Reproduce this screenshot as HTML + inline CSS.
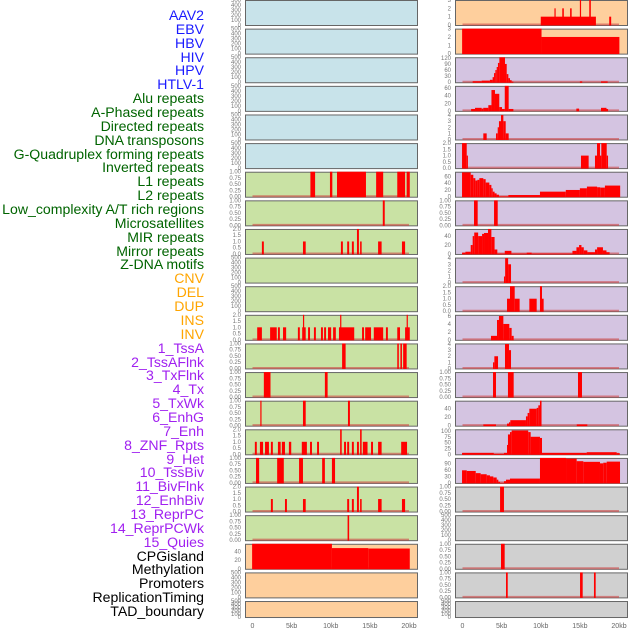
<!DOCTYPE html>
<html><head><meta charset="utf-8">
<style>
html,body{margin:0;padding:0;background:#fff;width:630px;height:630px;overflow:hidden}
#labels{position:absolute;left:0;top:0;width:204px;height:630px}
.lab{position:absolute;right:0;font:14.1px "Liberation Sans",sans-serif;white-space:nowrap;line-height:14px}
svg{position:absolute;left:0;top:0}
</style></head>
<body>
<div id="labels"></div>
<svg id="chart" width="630" height="630"></svg>
<script>
const labelNames = ["AAV2","EBV","HBV","HIV","HPV","HTLV-1","Alu repeats","A-Phased repeats","Directed repeats","DNA transposons","G-Quadruplex forming repeats","Inverted repeats","L1 repeats","L2 repeats","Low_complexity A/T rich regions","Microsatellites","MIR repeats","Mirror repeats","Z-DNA motifs","CNV","DEL","DUP","INS","INV","1_TssA","2_TssAFlnk","3_TxFlnk","4_Tx","5_TxWk","6_EnhG","7_Enh","8_ZNF_Rpts","9_Het","10_TssBiv","11_BivFlnk","12_EnhBiv","13_ReprPC","14_ReprPCWk","15_Quies","CPGisland","Methylation","Promoters","ReplicationTiming","TAD_boundary"];
const labelGroupSizes = [6,13,5,15,5];
const labelColors = ["#1a1aff","#006400","#ffa500","#a020f0","#000000"];

const L6 = [[7.4,8.0,1],[9.9,10.2,1],[10.8,14.5,1],[15.8,16.7,1],[18.5,19.5,1],[19.7,20.1,1]];
const L7 = [[16.65,16.9,1]];
const L8 = [[1.2,1.45,1],[6.45,6.8,1],[11.3,11.55,1],[12.1,12.35,1],[12.7,12.95,1],[13.35,13.6,2],[13.75,13.95,1],[16.05,16.5,1],[19.1,19.5,1]];
const L11 = [[0.6,1.2,1],[2.25,3.1,1],[3.25,3.5,1],[3.9,4.3,1],[5.8,6.05,1],[6.35,6.8,1],[6.45,6.6,2],[7.1,7.35,1],[7.85,8.1,1],[8.75,9.0,1],[9.15,9.4,1],[9.65,10.05,1],[10.3,10.65,1],[11.05,13.0,1],[11.2,11.3,2],[14.0,14.25,1],[14.4,15.15,1],[15.5,16.7,1],[17.05,17.3,1],[18.5,18.85,1],[19.5,20.1,1],[19.7,19.8,2]];
const L12 = [[11.45,11.9,1],[18.5,18.7,1],[18.9,19.1,1],[19.25,19.7,1]];
const L13 = [[1.45,2.3,1],[9.25,9.6,1]];
const L14 = [[1.0,1.15,1],[6.45,6.8,1],[12.2,12.45,1]];
const L15 = [[0.3,0.55,1],[0.95,1.35,1],[1.6,2.1,1],[2.35,2.6,1],[3.25,3.6,1],[3.75,4.15,1],[4.65,4.95,1],[6.3,6.95,1],[7.35,7.6,1],[8.25,8.5,1],[11.2,11.4,2],[11.7,11.95,1],[12.1,12.35,1],[12.7,12.95,1],[13.35,13.6,1],[13.75,13.95,2],[14.1,14.7,1],[15.15,15.4,1],[16.05,16.5,1],[19.0,19.75,1]];
const L16 = [[0.45,0.85,1],[3.15,4.0,1],[5.95,6.45,1],[8.9,9.25,1],[10.15,10.55,1]];
const L17 = [[2.35,2.6,1],[4.15,4.4,1],[6.45,6.8,1],[12.1,12.35,1],[12.7,12.95,1],[13.35,13.6,2],[13.75,13.95,1],[16.05,16.5,1],[19.1,19.5,1]];
const L18 = [[12.15,12.35,1]];
const L19 = [[-0.05,10.15,58],[10.15,14.8,48],[14.8,20.1,47]];

const R0 = [[10.0,17.05,1],[11.75,11.9,2],[12.75,12.95,2],[13.75,13.95,2],[15.0,15.15,3],[16.2,16.4,3],[18.75,19.0,1]];
const R1 = [[-0.05,10.1,3],[10.1,20.05,2]];
const R2 = [[1.3,2.45,5],[2.45,3.5,8],[3.5,3.85,12],[3.85,4.03,25],[4.03,4.2,45],[4.2,4.37,60],[4.37,4.53,75],[4.53,4.71,95],[4.71,5.43,123],[5.43,5.65,90],[5.65,5.86,40],[5.86,6.07,20],[6.07,6.28,10],[6.28,6.5,3],[15.0,15.3,4],[17.7,18.55,4]];
const R3 = [[1.1,1.6,5],[1.6,2.45,8],[2.45,2.65,6],[2.65,3.3,8],[3.3,3.7,15],[3.7,4.15,55],[4.15,4.7,45],[4.7,5.05,10],[5.05,5.4,5],[5.4,5.9,66],[5.9,6.5,5],[14.55,14.9,6],[17.7,18.4,8],[18.4,18.6,5]];
const R4 = [[2.66,3.09,1],[4.28,4.5,1],[4.5,4.66,2],[4.66,4.92,3],[4.92,5.22,4],[5.22,5.52,3],[5.52,5.9,1]];
const R5 = [[-0.06,0.54,2],[0.54,0.67,1],[15.14,16.12,1],[16.93,17.19,1],[17.19,17.57,2],[17.57,17.74,1],[17.74,18.43,2],[18.43,18.6,1]];
const R6 = [[-0.06,1.05,72],[1.05,1.38,65],[1.38,1.64,55],[1.64,1.9,48],[1.9,2.15,50],[2.15,2.66,55],[2.66,2.96,52],[2.96,3.43,42],[3.43,3.69,35],[3.69,3.86,25],[3.86,4.1,15],[4.1,4.36,10],[4.36,4.66,6],[4.66,5.86,1],[5.86,8.5,5],[8.5,9.9,5],[9.9,13.2,15],[13.2,15.0,20],[15.0,15.9,25],[15.9,17.2,30],[17.2,17.6,28],[17.6,18.2,27],[18.2,20.15,33]];
const R7 = [[1.47,1.94,1],[4.03,4.5,1]];
const R8 = [[-0.06,0.37,3],[0.37,1.05,5],[1.05,1.3,20],[1.3,1.5,40],[1.5,2.0,48],[2.0,2.5,40],[2.5,2.75,45],[2.75,3.26,47],[3.26,3.69,56],[3.69,4.1,38],[4.1,4.45,10],[4.45,5.4,1],[5.4,6.25,7],[6.25,8.2,1],[8.2,8.84,3],[8.84,14.05,1],[14.05,14.56,7],[14.56,14.9,15],[14.9,15.2,20],[15.2,15.5,15],[15.5,15.96,8],[15.96,16.93,4],[16.93,17.2,10],[17.2,17.95,15],[17.95,18.4,8],[18.4,18.8,4]];
const R9 = [[5.3,5.45,1],[5.45,5.83,4],[5.83,6.2,3]];
const R10 = [[5.69,6.07,1],[6.07,6.67,2],[6.67,7.3,1],[8.54,9.48,1],[9.9,10.16,2],[10.16,10.37,1]];
const R11 = [[3.64,4.41,1],[4.41,4.66,5],[4.66,5.22,6],[5.22,5.98,4],[5.98,6.28,3],[6.28,6.54,1]];
const R12 = [[3.9,4.07,1],[4.07,4.54,2],[5.43,5.94,4],[5.94,6.2,3]];
const R13 = [[3.9,4.28,1],[5.81,6.54,1],[14.76,15.27,1]];
const R14 = [[2.66,4.28,3],[5.69,5.94,5],[5.94,6.11,8],[6.11,8.11,13],[8.11,8.32,22],[8.32,8.54,30],[8.54,9.48,40],[9.48,9.69,42],[9.69,9.9,48],[9.9,10.1,59],[14.6,15.95,3]];
const R15 = [[-0.06,4.0,6],[4.0,5.3,2],[5.3,5.69,6],[5.69,5.81,40],[5.81,6.07,85],[6.07,6.28,95],[6.28,8.4,102],[8.4,8.71,95],[8.71,9.9,75],[9.9,10.16,70],[10.16,15.87,6],[15.87,19.7,9],[19.7,20.1,5]];
const R16 = [[-0.06,0.54,58],[0.54,1.69,55],[1.69,2.32,45],[2.32,3.09,40],[3.09,3.51,35],[3.51,3.94,30],[3.94,4.37,25],[4.37,4.58,15],[4.58,4.79,5],[4.79,5.3,0.5],[5.3,5.56,8],[5.56,6.07,15],[6.07,9.9,20],[9.9,13.23,115],[13.23,14.59,112],[14.59,15.44,100],[15.44,17.57,97],[17.57,17.99,90],[17.99,18.43,93],[18.43,20.13,98]];
const R17 = [[4.8,5.3,1]];
const R19 = [[4.92,5.39,1]];
const R20 = [[5.56,5.78,1],[15.02,15.36,1],[16.8,17.02,1]];

const xTickKb = [0,5,10,15,20];
const xTickLabels = ["0","5kb","10kb","15kb","20kb"];

const T500 = {ymax:500,ticks:[0,100,200,300,400,500],fmt:v=>String(v)};
const T1 = {ymax:1,ticks:[0,0.25,0.5,0.75,1],fmt:v=>v.toFixed(2)};
const T2 = {ymax:2,ticks:[0,0.5,1,1.5,2],fmt:v=>v.toFixed(1)};
function TI(ymax,ticks){return {ymax:ymax,ticks:ticks,fmt:v=>String(v)};}

const BLUE="#c8e3ea",GREEN="#c9e2a4",ORANGE="#fecf9d",PURPLE="#d4c4e1",GREY="#d0d0d0";

const leftPanels = [
 [BLUE,T500,null],[BLUE,T500,null],[BLUE,T500,null],[BLUE,T500,null],[BLUE,T500,null],[BLUE,T500,null],
 [GREEN,T1,L6],[GREEN,T1,L7],[GREEN,T2,L8],[GREEN,T500,null],[GREEN,T500,null],[GREEN,T2,L11],
 [GREEN,T1,L12],[GREEN,T1,L13],[GREEN,T1,L14],[GREEN,T2,L15],[GREEN,T1,L16],[GREEN,T2,L17],[GREEN,T1,L18],
 [ORANGE,TI(58,[0,20,40]),L19],[ORANGE,T500,null],[ORANGE,T500,null]
];
const rightPanels = [
 [ORANGE,TI(3,[0,1,2,3]),R0],[ORANGE,TI(3,[0,1,2,3]),R1],[PURPLE,TI(123,[0,30,60,90,120]),R2],
 [PURPLE,TI(66,[0,20,40,60]),R3],[PURPLE,TI(4.1,[0,1,2,3,4]),R4],[PURPLE,T2,R5],[PURPLE,TI(74,[0,20,40,60]),R6],
 [PURPLE,T1,R7],[PURPLE,TI(56,[0,20,40]),R8],[PURPLE,TI(4.1,[0,1,2,3,4]),R9],[PURPLE,T2,R10],
 [PURPLE,TI(6.3,[0,2,4,6]),R11],[PURPLE,TI(4.1,[0,1,2,3,4]),R12],[PURPLE,T1,R13],[PURPLE,TI(59,[0,20,40]),R14],
 [PURPLE,TI(107,[0,25,50,75,100]),R15],[PURPLE,TI(115,[0,30,60,90]),R16],[GREY,T1,R17],[GREY,T500,null],
 [GREY,T1,R19],[GREY,T1,R20],[GREY,T500,null]
];

const labDiv=document.getElementById('labels');
let gi=0,gc=0;
labelNames.forEach((n,i)=>{
  while(gc>=labelGroupSizes[gi]){gi++;gc=0;}
  gc++;
  const d=document.createElement('div');
  
  
  d.className='lab';
  d.style.top=(15+i*13.86-7)+'px';
  d.style.color=labelColors[gi];
  d.textContent=n;
  labDiv.appendChild(d);
});

const NS="http://www.w3.org/2000/svg";
const svg=document.getElementById('chart');
function el(t,a){const e=document.createElementNS(NS,t);for(const k in a)e.setAttribute(k,a[k]);return e;}
const KB0=7.5,PXKB=7.825,PW=172,PITCH=28.62;
function xScale(colX,kb){return colX+KB0+kb*PXKB;}
function yScale(top,h,ymax,v){return top+h-Math.min(v,ymax)/ymax*h;}

function drawColumn(panels,colX,side){
  panels.forEach((p,i)=>{
    const [bg,ax,data]=p;
    const top=i*PITCH, h=(i===21)?16:25;
    const g=el('g',{});
    
    
    const r=el('rect',{x:colX+0.5,y:top+0.5,width:PW,height:h,fill:bg,stroke:'#666','stroke-width':1});
    
    
    g.appendChild(r);
    ax.ticks.forEach(t=>{
      const tx=el('text',{x:colX-4,y:yScale(top,h,ax.ymax,t)+2,'text-anchor':'end','font-size':6,fill:'#777','font-family':'Liberation Sans, sans-serif'});
      
      
      tx.textContent=ax.fmt(t);
      g.appendChild(tx);
    });
    if(data){
      const bl=el('line',{x1:xScale(colX,0),x2:xScale(colX,20),y1:top+h-0.5,y2:top+h-0.5,stroke:'rgba(205,70,70,0.6)','stroke-width':2});
      
      
      g.appendChild(bl);
      data.forEach(s=>{
        const x0=xScale(colX,s[0]),x1=xScale(colX,s[1]);
        const y=yScale(top,h,ax.ymax,s[2]);
        const b=el('rect',{x:x0,y:y,width:Math.max(1.2,x1-x0),height:top+h+0.5-y,fill:'#ff0000'});
        
        
        g.appendChild(b);
      });
    }
    svg.appendChild(g);
  });
  xTickKb.forEach((k,j)=>{
    const t=el('text',{x:xScale(colX,k),y:628,'text-anchor':'middle','font-size':7,fill:'#666','font-family':'Liberation Sans, sans-serif'});
    
    
    t.textContent=xTickLabels[j];
    svg.appendChild(t);
  });
}
drawColumn(leftPanels,245,'left');
drawColumn(rightPanels,455,'right');
</script>
</body></html>
